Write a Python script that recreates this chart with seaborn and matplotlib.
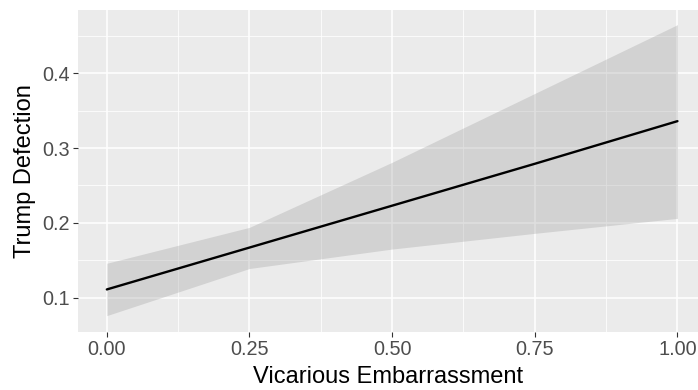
import matplotlib
matplotlib.use("Agg")
import matplotlib.pyplot as plt
import seaborn as sns
import pandas as pd

x_vals = [0.0, 0.25, 0.5, 0.75, 1.0]
fit = [0.111, 0.167, 0.223, 0.279, 0.336]
lower = [0.076, 0.139, 0.165, 0.186, 0.206]
upper = [0.146, 0.194, 0.281, 0.373, 0.465]
x_ticks = [0.0, 0.25, 0.5, 0.75, 1.0]
x_tick_labels = ["0.00", "0.25", "0.50", "0.75", "1.00"]
y_ticks = [0.1, 0.2, 0.3, 0.4]
y_tick_labels = ["0.1", "0.2", "0.3", "0.4"]

df = pd.DataFrame({"x": x_vals, "fit": fit, "lower": lower, "upper": upper})

sns.set_theme(style="darkgrid")
plt.rcParams["font.family"] = ["Liberation Sans", "DejaVu Sans"]

fig = plt.figure(figsize=(6.98, 3.90), dpi=100)
ax = fig.add_axes([78.3 / 698, (390 - 331.7) / 390, (698 - 78.3) / 698, (331.7 - 10) / 390])
ax.set_facecolor("#EBEBEB")

ax.fill_between(df["x"], df["lower"], df["upper"], color="#999999", alpha=0.3, linewidth=0, zorder=2)
sns.lineplot(data=df, x="x", y="fit", color="black", linewidth=1.7, ax=ax, zorder=3)

ax.set_xlim(-0.05, 1.036)
ax.set_ylim(0.0545, 0.4846)
ax.set_xticks(x_ticks)
ax.set_xticklabels(x_tick_labels)
ax.set_yticks(y_ticks)
ax.set_yticklabels(y_tick_labels)
ax.xaxis.set_minor_locator(matplotlib.ticker.FixedLocator([0.125, 0.375, 0.625, 0.875]))
ax.yaxis.set_minor_locator(matplotlib.ticker.FixedLocator([0.15, 0.25, 0.35, 0.45]))

ax.grid(which="major", color="white", linewidth=1.1, zorder=1)
ax.grid(which="minor", color="white", linewidth=0.55, zorder=1)
ax.set_axisbelow(True)
for s in ax.spines.values():
    s.set_visible(False)

ax.tick_params(axis="both", which="major", length=3.3, width=0.8, color="#333333",
               labelcolor="#4D4D4D", labelsize=14.3, bottom=True, left=True)
ax.tick_params(axis="x", which="major", pad=2.5)
ax.tick_params(axis="y", which="major", pad=2.5)
ax.tick_params(which="minor", length=0, bottom=False, left=False)

ax.set_xlabel("Vicarious Embarrassment", fontsize=17, color="black", labelpad=5)
ax.set_ylabel("Trump Defection", fontsize=17, color="black", labelpad=5)

fig.savefig("out.png", dpi=100)
